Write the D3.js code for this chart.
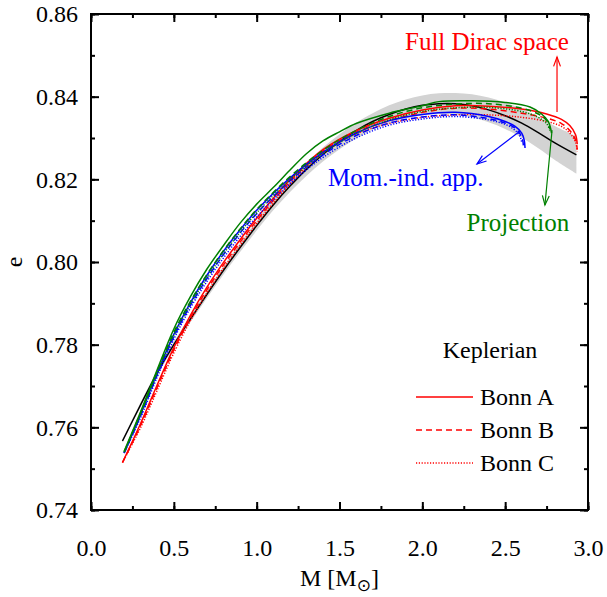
<!DOCTYPE html>
<html>
<head>
<meta charset="utf-8">
<script src="https://cdn.jsdelivr.net/npm/d3@7"></script>
<style>
body { margin: 0; background: #fff; }
text { font-family: "Liberation Serif", "Times New Roman", serif; }
</style>
</head>
<body>
<div id="chart"></div>
<script>
// fit curve (black) and its error band
var massFit = [0.19,0.3,0.4,0.5,0.6,0.7,0.8,0.9,1.0,1.1,1.2,1.3,1.4,1.5,1.6,1.7,1.8,1.9,2.0,2.1,2.2,2.3,2.4,2.5,2.6,2.7,2.8,2.93];
var eFit    = [0.7567,0.7655,0.7732,0.7800,0.7862,0.7922,0.7980,0.8035,0.8088,0.8138,0.8183,0.8224,0.8260,0.8291,0.8318,0.8340,0.8357,0.8370,0.8379,0.8383,0.8383,0.8378,0.8368,0.8354,0.8336,0.8313,0.8288,0.8259];
var fitErr  = [0.0004,0.0005,0.0006,0.0007,0.0008,0.0009,0.0010,0.0011,0.0012,0.0013,0.0014,0.0016,0.0017,0.0018,0.0019,0.0020,0.0022,0.0023,0.0024,0.0025,0.0026,0.0028,0.0030,0.0032,0.0035,0.0038,0.0041,0.0045];

// full Dirac space (red)
var diracM  = [0.19,0.3,0.4,0.5,0.6,0.7,0.8,0.9,1.0,1.2,1.4,1.6,1.8,2.0,2.2,2.4,2.6,2.75,2.84,2.89,2.925,2.935];
var diracA  = [0.7515,0.7610,0.7703,0.7793,0.7871,0.7939,0.7999,0.8054,0.8106,0.8199,0.8272,0.8318,0.8348,0.8368,0.8378,0.8377,0.8370,0.8358,0.8345,0.8330,0.8308,0.8285];
var diracB  = [0.7515,0.7605,0.7697,0.7787,0.7865,0.7933,0.7993,0.8048,0.8100,0.8194,0.8268,0.8314,0.8342,0.8362,0.8372,0.8370,0.8360,0.8348,0.8335,0.8318,0.8295,0.8272];
var diracC  = [0.7515,0.7600,0.7690,0.7780,0.7858,0.7925,0.7985,0.8040,0.8093,0.8188,0.8264,0.8310,0.8335,0.8350,0.8356,0.8356,0.8350,0.8340,0.8328,0.8312,0.8290,0.8268];

// momentum-independent approximation (blue)
var momM_A  = [0.2,0.3,0.4,0.5,0.6,0.7,0.8,0.9,1.0,1.2,1.4,1.6,1.8,2.0,2.2,2.4,2.5,2.56,2.6,2.615,2.62];
var momM_B  = [0.2,0.3,0.4,0.5,0.6,0.7,0.8,0.9,1.0,1.2,1.4,1.6,1.8,2.0,2.2,2.4,2.5,2.56,2.59,2.605,2.61];
var momM_C  = [0.2,0.3,0.4,0.5,0.6,0.7,0.8,0.9,1.0,1.2,1.4,1.6,1.8,2.0,2.2,2.4,2.5,2.55,2.58,2.595,2.6];
var momA    = [0.7538,0.7632,0.7732,0.7825,0.7902,0.7968,0.8026,0.8078,0.8125,0.8203,0.8265,0.8312,0.8342,0.8357,0.8362,0.8352,0.8340,0.8328,0.8312,0.8295,0.8276];
var momB    = [0.7538,0.7628,0.7727,0.7819,0.7895,0.7960,0.8018,0.8070,0.8117,0.8196,0.8259,0.8306,0.8336,0.8351,0.8356,0.8347,0.8336,0.8324,0.8310,0.8296,0.8282];
var momC    = [0.7538,0.7624,0.7722,0.7813,0.7889,0.7953,0.8010,0.8062,0.8109,0.8189,0.8253,0.8300,0.8331,0.8346,0.8352,0.8344,0.8333,0.8322,0.8310,0.8298,0.8288];

// projection (green)
var projM_A = [0.2,0.3,0.4,0.5,0.6,0.7,0.8,0.9,1.0,1.1,1.2,1.3,1.4,1.5,1.6,1.8,2.0,2.1,2.3,2.5,2.65,2.72,2.76,2.78];
var projA   = [0.7542,0.7638,0.7740,0.7838,0.7916,0.7983,0.8040,0.8094,0.8140,0.8180,0.8222,0.8262,0.8293,0.8315,0.8335,0.8360,0.8378,0.8388,0.8390,0.8386,0.8375,0.8358,0.8340,0.8312];
var projM_B = [0.2,0.3,0.4,0.5,0.6,0.7,0.8,0.9,1.0,1.2,1.4,1.6,1.8,2.0,2.2,2.4,2.6,2.7,2.75,2.77];
var projB   = [0.7540,0.7636,0.7736,0.7830,0.7905,0.7970,0.8028,0.8080,0.8127,0.8206,0.8270,0.8318,0.8352,0.8373,0.8382,0.8383,0.8372,0.8358,0.8342,0.8322];
var projC   = [0.7540,0.7632,0.7730,0.7823,0.7898,0.7962,0.8020,0.8072,0.8119,0.8199,0.8263,0.8311,0.8344,0.8364,0.8373,0.8374,0.8364,0.8350,0.8335,0.8318];

// annotations: label, colour, label anchor [M, e], arrow [M0, e0, M1, e1]
var noteLabels = ["Full Dirac space", "Mom.-ind. app.", "Projection"];
var noteColors = ["#ff0000", "#0000ff", "#008000"];
var noteAnchor = [[2.39, 0.8513], [1.90, 0.8184], [2.577, 0.8075]];
var noteArrows = [[2.813, 0.8363, 2.813, 0.8496], [2.59, 0.8317, 2.33, 0.8237], [2.783, 0.8319, 2.74, 0.8138]];

var legendTitle = "Keplerian";
var legendLabels = ["Bonn A", "Bonn B", "Bonn C"];
var xTicks = [0.0, 0.5, 1.0, 1.5, 2.0, 2.5, 3.0];
var yTicks = [0.74, 0.76, 0.78, 0.80, 0.82, 0.84, 0.86];

// size and margins
var W = 607, H = 597;
var m = {left: 91, top: 14, right: 19, bottom: 87};
var w = W - m.left - m.right, h = H - m.top - m.bottom;

var x = d3.scaleLinear().domain([0, 3]).range([0, w]);
var y = d3.scaleLinear().domain([0.74, 0.86]).range([h, 0]);

var svg = d3.select("#chart").append("svg")
	.attr("width", W)
	.attr("height", H);
var plot = svg.append("g")
	.attr("transform", "translate(" + m.left + "," + m.top + ")");

// error band
var band = d3.area()
	.x(function(d, i) { return x(massFit[i]); })
	.y0(function(d, i) { return y(eFit[i] - fitErr[i]); })
	.y1(function(d, i) { return y(eFit[i] + fitErr[i]); })
	.curve(d3.curveCatmullRom);
plot.append("path")
	.attr("d", band(eFit))
	.attr("fill", "#d3d3d3");

// curves
var line = d3.line()
	.x(function(d) { return x(d[0]); })
	.y(function(d) { return y(d[1]); })
	.curve(d3.curveCatmullRom);

var dashes = [null, "6,4", "1.2,1.6"];
var curves = [
	[massFit, eFit, "#000000", null],
	[diracM, diracA, "#ff0000", dashes[0]],
	[diracM, diracB, "#ff0000", dashes[1]],
	[diracM, diracC, "#ff0000", dashes[2]],
	[momM_A, momA, "#0000ff", dashes[0]],
	[momM_B, momB, "#0000ff", dashes[1]],
	[momM_C, momC, "#0000ff", dashes[2]],
	[projM_A, projA, "#008000", dashes[0]],
	[projM_B, projB, "#008000", dashes[1]],
	[projM_B, projC, "#008000", dashes[2]]
];
plot.append("g").selectAll("path")
	.data(curves)
	.enter().append("path")
	.attr("d", function(c) { return line(d3.zip(c[0], c[1])); })
	.attr("fill", "none")
	.attr("stroke", function(c) { return c[2]; })
	.attr("stroke-width", 1.5)
	.attr("stroke-dasharray", function(c) { return c[3]; });

// annotations with open arrow heads
noteArrows.forEach(function(a, i) {
	var x0 = x(a[0]), y0 = y(a[1]), x1 = x(a[2]), y1 = y(a[3]);
	var ang = Math.atan2(y1 - y0, x1 - x0), L = 10, sp = 0.35;
	var g = plot.append("g")
		.attr("stroke", noteColors[i])
		.attr("stroke-width", 1.2)
		.attr("fill", "none");
	g.append("line").attr("x1", x0).attr("y1", y0).attr("x2", x1).attr("y2", y1);
	g.append("path").attr("d", "M" + (x1 - L * Math.cos(ang - sp)) + "," + (y1 - L * Math.sin(ang - sp)) +
		"L" + x1 + "," + y1 +
		"L" + (x1 - L * Math.cos(ang + sp)) + "," + (y1 - L * Math.sin(ang + sp)));
	plot.append("text")
		.attr("x", x(noteAnchor[i][0]))
		.attr("y", y(noteAnchor[i][1]))
		.attr("text-anchor", "middle")
		.attr("font-size", 25)
		.attr("fill", noteColors[i])
		.text(noteLabels[i]);
});

// axes, ticks pointing inward on all sides
function styleAxis(g) {
	g.select(".domain").remove();
	g.selectAll("line").attr("stroke", "#000").attr("stroke-width", 2);
	g.selectAll("text").attr("font-size", 24).attr("fill", "#000")
		.attr("font-family", "'Liberation Serif', 'Times New Roman', serif");
}
var xMinor = d3.range(0, 3.01, 0.25), yMinor = d3.range(0.74, 0.8601, 0.01);

plot.append("g").attr("transform", "translate(0," + h + ")")
	.call(d3.axisBottom(x).tickValues(xTicks).tickFormat(d3.format(".1f")).tickSizeInner(-8).tickSizeOuter(0).tickPadding(29))
	.call(styleAxis);
plot.append("g").attr("transform", "translate(0," + h + ")")
	.call(d3.axisBottom(x).tickValues(xMinor).tickFormat("").tickSizeInner(-4).tickSizeOuter(0))
	.call(styleAxis);
plot.append("g")
	.call(d3.axisTop(x).tickValues(xTicks).tickFormat("").tickSizeInner(-8).tickSizeOuter(0))
	.call(styleAxis);
plot.append("g")
	.call(d3.axisTop(x).tickValues(xMinor).tickFormat("").tickSizeInner(-4).tickSizeOuter(0))
	.call(styleAxis);
plot.append("g")
	.call(d3.axisLeft(y).tickValues(yTicks).tickFormat(d3.format(".2f")).tickSizeInner(-8).tickSizeOuter(0).tickPadding(13))
	.call(styleAxis);
plot.append("g")
	.call(d3.axisLeft(y).tickValues(yMinor).tickFormat("").tickSizeInner(-4).tickSizeOuter(0))
	.call(styleAxis);
plot.append("g").attr("transform", "translate(" + w + ",0)")
	.call(d3.axisRight(y).tickValues(yTicks).tickFormat("").tickSizeInner(-8).tickSizeOuter(0))
	.call(styleAxis);
plot.append("g").attr("transform", "translate(" + w + ",0)")
	.call(d3.axisRight(y).tickValues(yMinor).tickFormat("").tickSizeInner(-4).tickSizeOuter(0))
	.call(styleAxis);

// frame
plot.append("rect")
	.attr("width", w)
	.attr("height", h)
	.attr("fill", "none")
	.attr("stroke", "#000")
	.attr("stroke-width", 2);

// axis titles
var xt = svg.append("text")
	.attr("x", m.left + w / 2)
	.attr("y", 586)
	.attr("text-anchor", "middle")
	.attr("font-size", 24);
xt.append("tspan").text("M [M");
xt.append("tspan").attr("font-size", 17).attr("dy", 5).attr("font-family", "'DejaVu Sans', sans-serif").text("\u2299");
xt.append("tspan").attr("dy", -5).text("]");

svg.append("text")
	.attr("transform", "translate(22," + (m.top + h / 2) + ") rotate(-90)")
	.attr("text-anchor", "middle")
	.attr("font-size", 24)
	.text("e");

// legend
var leg = svg.append("g").attr("transform", "translate(416,0)");
leg.append("text")
	.attr("x", 74)
	.attr("y", 358)
	.attr("text-anchor", "middle")
	.attr("font-size", 24)
	.text(legendTitle);
legendLabels.forEach(function(lab, i) {
	var ly = 397 + i * 33;
	leg.append("line")
		.attr("x1", 0).attr("x2", 57)
		.attr("y1", ly).attr("y2", ly)
		.attr("stroke", "#ff0000")
		.attr("stroke-width", 1.5)
		.attr("stroke-dasharray", dashes[i]);
	leg.append("text")
		.attr("x", 64)
		.attr("y", ly + 8)
		.attr("font-size", 24)
		.text(lab);
});
</script>
</body>
</html>
